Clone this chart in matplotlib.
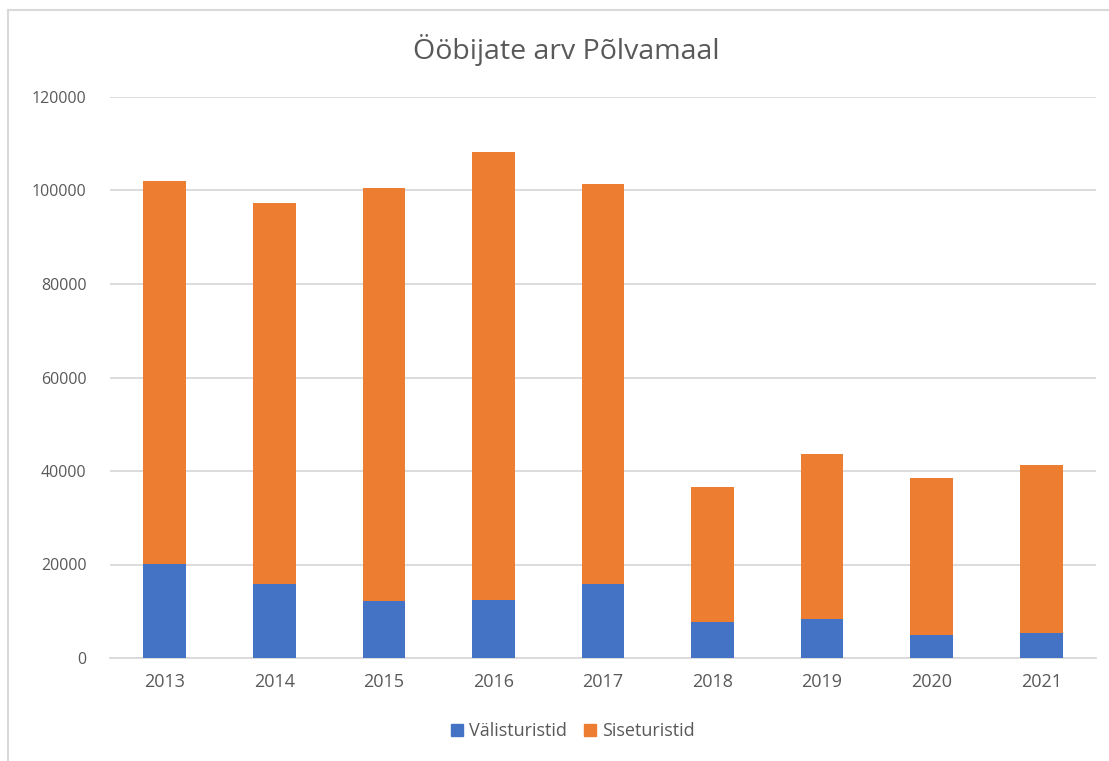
import numpy as np
import matplotlib.pyplot as plt
from matplotlib.lines import Line2D

# data
years = ['2013', '2014', '2015', '2016', '2017', '2018', '2019', '2020', '2021']
valisturistid = [20200, 15900, 12100, 12500, 15900, 7800, 8400, 4900, 5350]
kokku = [101950, 97250, 100450, 108150, 101400, 36500, 43550, 38550, 41200]
siseturistid = [t - v for t, v in zip(kokku, valisturistid)]

plt.rcParams['font.family'] = ['Open Sans', 'DejaVu Sans']
text_col = '#595959'

fig = plt.figure(figsize=(11.09, 7.61), dpi=100)
ax = fig.add_axes([110 / 1109, 1 - 658 / 761, 986 / 1109, 561 / 761])

x = np.arange(len(years))
w = 0.39
ax.bar(x, valisturistid, w, color='#4472C4', label='Välisturistid', zorder=3)
ax.bar(x, siseturistid, w, bottom=valisturistid, color='#ED7D31',
       label='Siseturistid', zorder=3)

ax.set_xlim(-0.5, len(years) - 0.5)
ax.set_ylim(0, 120000)
ax.set_yticks(range(0, 120001, 20000))
ax.set_xticks(x)
ax.set_xticklabels(years)
ax.yaxis.grid(True, color='#D9D9D9', linewidth=1.3, zorder=0)
for s in ['top', 'right', 'left']:
    ax.spines[s].set_visible(False)
ax.spines['bottom'].set_color('#D9D9D9')
ax.spines['bottom'].set_linewidth(1.3)
ax.tick_params(length=0, colors=text_col)
ax.tick_params(axis='y', labelsize=11.5, pad=17)
ax.tick_params(axis='x', labelsize=13, pad=11)

fig.text(0.511, 1 - 50 / 761, 'Ööbijate arv Põlvamaal', ha='center', va='center',
         fontsize=20.5, color=text_col)

handles = [Line2D([], [], marker='s', linestyle='', markersize=9, color='#4472C4'),
           Line2D([], [], marker='s', linestyle='', markersize=9, color='#ED7D31')]
fig.legend(handles, ['Välisturistid', 'Siseturistid'], loc='center',
           bbox_to_anchor=(0.514, 1 - 731 / 761), ncol=2, frameon=False,
           fontsize=13, labelcolor=text_col, handletextpad=0.05, handlelength=1.3,
           columnspacing=0.6)

# chart border
fig.add_artist(Line2D([8 / 1109, 8 / 1109], [0, 1 - 10 / 761], color='#D9D9D9', lw=1.5))
fig.add_artist(Line2D([8 / 1109, 1], [1 - 10 / 761, 1 - 10 / 761], color='#D9D9D9', lw=1.5))

fig.savefig('out.png', dpi=100)
